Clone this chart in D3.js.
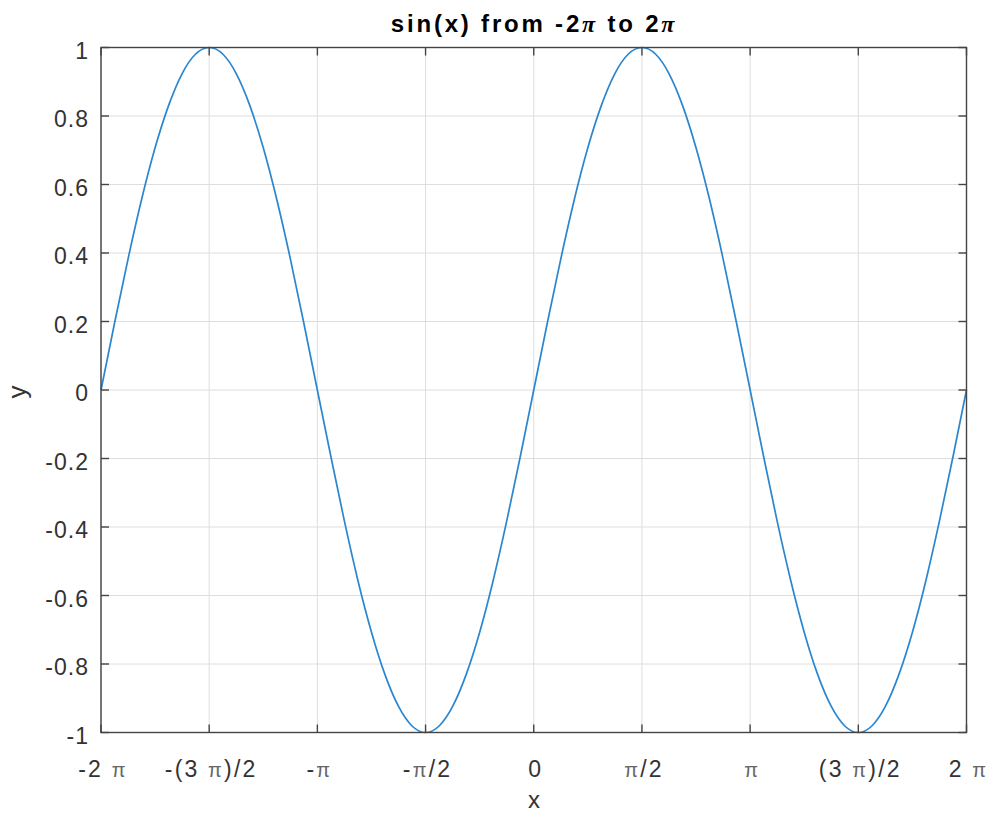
<!DOCTYPE html>
<html><head><meta charset="utf-8">
<script src="https://cdn.jsdelivr.net/npm/d3@7"></script>
<style>body{margin:0;background:#fff}svg{display:block}</style>
</head><body>
<svg id="c" width="990" height="815"></svg>
<script>
// sample points (radians)
const xValues = [-6.283,-6.087,-5.890,-5.694,-5.498,-5.301,-5.105,-4.909,-4.712,-4.516,-4.320,-4.123,-3.927,-3.731,-3.534,-3.338,
  -3.142,-2.945,-2.749,-2.553,-2.356,-2.160,-1.963,-1.767,-1.571,-1.374,-1.178,-0.982,-0.785,-0.589,-0.393,-0.196,
  0,0.196,0.393,0.589,0.785,0.982,1.178,1.374,1.571,1.767,1.963,2.160,2.356,2.553,2.749,2.945,
  3.142,3.338,3.534,3.731,3.927,4.123,4.320,4.516,4.712,4.909,5.105,5.301,5.498,5.694,5.890,6.087,6.283];
const yValues = [0,0.195,0.383,0.556,0.707,0.831,0.924,0.981,1,0.981,0.924,0.831,0.707,0.556,0.383,0.195,
  0,-0.195,-0.383,-0.556,-0.707,-0.831,-0.924,-0.981,-1,-0.981,-0.924,-0.831,-0.707,-0.556,-0.383,-0.195,
  0,0.195,0.383,0.556,0.707,0.831,0.924,0.981,1,0.981,0.924,0.831,0.707,0.556,0.383,0.195,
  0,-0.195,-0.383,-0.556,-0.707,-0.831,-0.924,-0.981,-1,-0.981,-0.924,-0.831,-0.707,-0.556,-0.383,-0.195,0];
const xTickValues = [-6.2832,-4.7124,-3.1416,-1.5708,0,1.5708,3.1416,4.7124,6.2832];
// label parts: [text, isPi]
const xTickLabels = [
  [["-2 ",0],["π",1]],
  [["-(3 ",0],["π",1],[")/2",0]],
  [["-",0],["π",1]],
  [["-",0],["π",1],["/2",0]],
  [["0",0]],
  [["π",1],["/2",0]],
  [["π",1]],
  [["(3 ",0],["π",1],[")/2",0]],
  [["2 ",0],["π",1]]
];
const yTickValues = [-1,-0.8,-0.6,-0.4,-0.2,0,0.2,0.4,0.6,0.8,1];
const yTickLabels = ["-1","-0.8","-0.6","-0.4","-0.2","0","0.2","0.4","0.6","0.8","1"];
const xLabel = "x", yLabel = "y";

const svg = d3.select("#c");
const L = 101, R = 966.5, T = 47.5, B = 732.5;
const x = d3.scaleLinear().domain([-6.2832, 6.2832]).range([L, R]);
const y = d3.scaleLinear().domain([-1, 1]).range([B, T]);
const axisCol = "#333", font = "'Liberation Sans', Arial, sans-serif";
const tickLen = 8;

// grid
const g = svg.append("g");
g.selectAll(".gx").data(xTickValues).join("line")
  .attr("x1", d => x(d)).attr("x2", d => x(d)).attr("y1", T).attr("y2", B)
  .attr("stroke", "#dedede").attr("stroke-width", 1);
g.selectAll(".gy").data(yTickValues).join("line")
  .attr("y1", d => y(d)).attr("y2", d => y(d)).attr("x1", L).attr("x2", R)
  .attr("stroke", "#dedede").attr("stroke-width", 1);

// curve
const pts = xValues.map((v, i) => [v, yValues[i]]);
svg.append("path").datum(pts)
  .attr("d", d3.line().x(d => x(d[0])).y(d => y(d[1])).curve(d3.curveNatural))
  .attr("fill", "none").attr("stroke", "#2a86cf").attr("stroke-width", 1.7);

// axes box
svg.append("rect").attr("x", L).attr("y", T).attr("width", R - L).attr("height", B - T)
  .attr("fill", "none").attr("stroke", "#444").attr("stroke-width", 1.4);

// ticks
const tk = svg.append("g").attr("stroke", "#444").attr("stroke-width", 1.4);
xTickValues.forEach(v => {
  tk.append("line").attr("x1", x(v)).attr("x2", x(v)).attr("y1", B).attr("y2", B - tickLen);
  tk.append("line").attr("x1", x(v)).attr("x2", x(v)).attr("y1", T).attr("y2", T + tickLen);
});
yTickValues.forEach(v => {
  tk.append("line").attr("y1", y(v)).attr("y2", y(v)).attr("x1", L).attr("x2", L + tickLen);
  tk.append("line").attr("y1", y(v)).attr("y2", y(v)).attr("x1", R).attr("x2", R - tickLen);
});

// y tick labels
svg.append("g").selectAll("text").data(yTickValues).join("text")
  .attr("x", 89).attr("y", d => y(d) + 3).attr("dy", "0.35em")
  .attr("text-anchor", "end").attr("font-family", font).attr("font-size", 23)
  .attr("letter-spacing", 1).attr("fill", axisCol).text((d, i) => yTickLabels[i]);

// x tick labels
xTickValues.forEach((v, i) => {
  const t = svg.append("text").attr("x", x(v) + 2).attr("y", 777)
    .attr("text-anchor", "middle").attr("font-family", font).attr("font-size", 23)
    .attr("letter-spacing", 2.2).attr("fill", axisCol);
  xTickLabels[i].forEach(([s, p]) => {
    const ts = t.append("tspan").text(s);
    if (p) ts.attr("font-size", 20).attr("fill", "#666");
  });
});

// axis labels
svg.append("text").attr("x", 534).attr("y", 808).attr("text-anchor", "middle")
  .attr("font-family", font).attr("font-size", 24).attr("fill", axisCol).text(xLabel);
svg.append("text").attr("transform", `translate(26,${(T + B) / 2 + 2}) rotate(-90)`)
  .attr("text-anchor", "middle").attr("font-family", font).attr("font-size", 26).attr("fill", axisCol).text(yLabel);

// title
const tt = svg.append("text").attr("x", 534).attr("y", 32).attr("text-anchor", "middle")
  .attr("font-family", font).attr("font-size", 24).attr("font-weight", "bold")
  .attr("letter-spacing", 2.8).attr("fill", "#000");
tt.append("tspan").text("sin(x) from -2");
tt.append("tspan").text("π").attr("font-family", "'Liberation Serif', serif").attr("font-style", "italic");
tt.append("tspan").text(" to 2");
tt.append("tspan").text("π").attr("font-family", "'Liberation Serif', serif").attr("font-style", "italic");
</script>
</body></html>
